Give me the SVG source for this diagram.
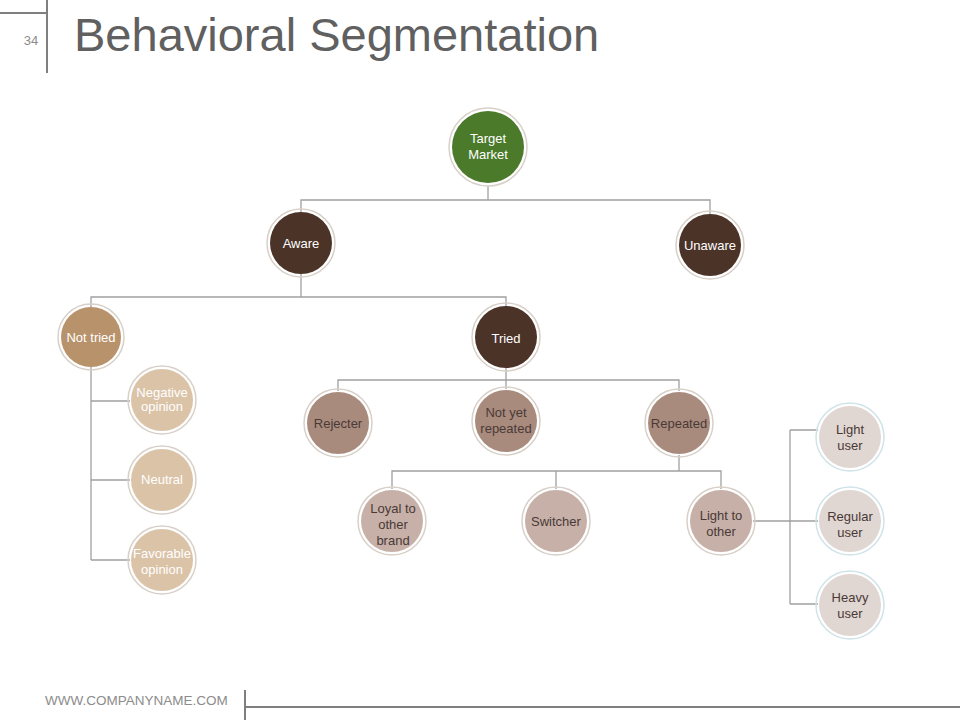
<svg xmlns="http://www.w3.org/2000/svg" width="960" height="720" viewBox="0 0 960 720">
<style>
text{font-family:"Liberation Sans",Arial,sans-serif;text-anchor:middle}
.c{fill:none;stroke:#a0a0a0;stroke-width:1.3}
.ring{fill:none;stroke:#d8d0c8;stroke-width:1.5}
.rb{fill:none;stroke:#cfe3e8;stroke-width:1.5}
.w{fill:#fff;font-size:13px}
.d{fill:#4a3a36;font-size:13px}
</style>
<rect width="960" height="720" fill="#fff"/>
<g id="header">
<path d="M0 13H47M47 0V73" stroke="#7f7f7f" stroke-width="2" fill="none"/>
<text x="31" y="45" font-size="13" fill="#8c8c8c">34</text>
<text x="74" y="51" font-size="47" fill="#606060" style="text-anchor:start">Behavioral Segmentation</text>
</g>
<g id="footer">
<text x="45" y="705" font-size="13.5" fill="#8c8c8c" style="text-anchor:start">WWW.COMPANYNAME.COM</text>
<path d="M245 690V720M245 707H960" stroke="#7f7f7f" stroke-width="2" fill="none"/>
</g>
<g id="connectors">
<path class="c" d="M488 186V200M301 212V200H710V214"/>
<path class="c" d="M301 274V297M91 307V297H506V306"/>
<path class="c" d="M91 367V560M91 401H130M91 480H130M91 560H130"/>
<path class="c" d="M506 368V380M338 391V380H679V391M506 380V389"/>
<path class="c" d="M679 455V471M392 489V471H721V489M556 471V489"/>
<path class="c" d="M753 521H790M790 430V604M790 430H818M790 521H818M790 604H818"/>
</g>
<g id="n-target"><circle cx="488" cy="147" r="39" class="ring"/><circle cx="488" cy="147" r="36" fill="#4a7a2a"/><text class="w" x="488" y="143">Target</text><text class="w" x="488" y="159">Market</text></g>
<g id="n-aware"><circle cx="301" cy="243" r="34" class="ring"/><circle cx="301" cy="243" r="31" fill="#4b3328"/><text class="w" x="301" y="248" font-size="14">Aware</text></g>
<g id="n-unaware"><circle cx="710" cy="245" r="34" class="ring"/><circle cx="710" cy="245" r="31" fill="#4b3328"/><text class="w" x="710" y="250" font-size="14">Unaware</text></g>
<g id="n-nottried"><circle cx="91" cy="337" r="33" class="ring"/><circle cx="91" cy="337" r="30" fill="#b8926a"/><text class="w" x="91" y="342">Not tried</text></g>
<g id="n-tried"><circle cx="506" cy="337" r="34" class="ring"/><circle cx="506" cy="337" r="31" fill="#4b3328"/><text class="w" x="506" y="343" font-size="16">Tried</text></g>
<g id="n-neg"><circle cx="162" cy="400" r="34" class="ring"/><circle cx="162" cy="400" r="31" fill="#dbc3a8"/><text class="w" x="162" y="397" font-size="11.5">Negative</text><text class="w" x="162" y="411" font-size="11.5">opinion</text></g>
<g id="n-neutral"><circle cx="162" cy="480" r="34" class="ring"/><circle cx="162" cy="480" r="31" fill="#dbc3a8"/><text class="w" x="162" y="484" font-size="11.5">Neutral</text></g>
<g id="n-fav"><circle cx="162" cy="560" r="34" class="ring"/><circle cx="162" cy="560" r="31" fill="#dbc3a8"/><text class="w" x="162" y="558" font-size="11.5">Favorable</text><text class="w" x="162" y="574" font-size="11.5">opinion</text></g>
<g id="n-rejecter"><circle cx="338" cy="423" r="34" class="ring"/><circle cx="338" cy="423" r="31" fill="#a98b7e"/><text class="d" x="338" y="428">Rejecter</text></g>
<g id="n-notyet"><circle cx="506" cy="421" r="34" class="ring"/><circle cx="506" cy="421" r="31" fill="#a98b7e"/><text class="d" x="506" y="417">Not yet</text><text class="d" x="506" y="433">repeated</text></g>
<g id="n-repeated"><circle cx="679" cy="423" r="34" class="ring"/><circle cx="679" cy="423" r="31" fill="#a98b7e"/><text class="d" x="679" y="428">Repeated</text></g>
<g id="n-loyal"><circle cx="392" cy="521" r="34" class="ring"/><circle cx="392" cy="521" r="31" fill="#c6b0a8"/><text class="d" x="393" y="513">Loyal to</text><text class="d" x="393" y="529">other</text><text class="d" x="393" y="545">brand</text></g>
<g id="n-switcher"><circle cx="556" cy="521" r="34" class="ring"/><circle cx="556" cy="521" r="31" fill="#c6b0a8"/><text class="d" x="556" y="526">Switcher</text></g>
<g id="n-lighttoother"><circle cx="721" cy="521" r="34" class="ring"/><circle cx="721" cy="521" r="31" fill="#c6b0a8"/><text class="d" x="721" y="520">Light to</text><text class="d" x="721" y="536">other</text></g>
<g id="n-light"><circle cx="850" cy="437" r="34" class="rb"/><circle cx="850" cy="437" r="31" fill="#e0d6d2"/><text class="d" x="850" y="434">Light</text><text class="d" x="850" y="450">user</text></g>
<g id="n-regular"><circle cx="850" cy="521" r="34" class="rb"/><circle cx="850" cy="521" r="31" fill="#e0d6d2"/><text class="d" x="850" y="521">Regular</text><text class="d" x="850" y="537">user</text></g>
<g id="n-heavy"><circle cx="850" cy="605" r="34" class="rb"/><circle cx="850" cy="605" r="31" fill="#e0d6d2"/><text class="d" x="850" y="602">Heavy</text><text class="d" x="850" y="618">user</text></g>
</svg>
